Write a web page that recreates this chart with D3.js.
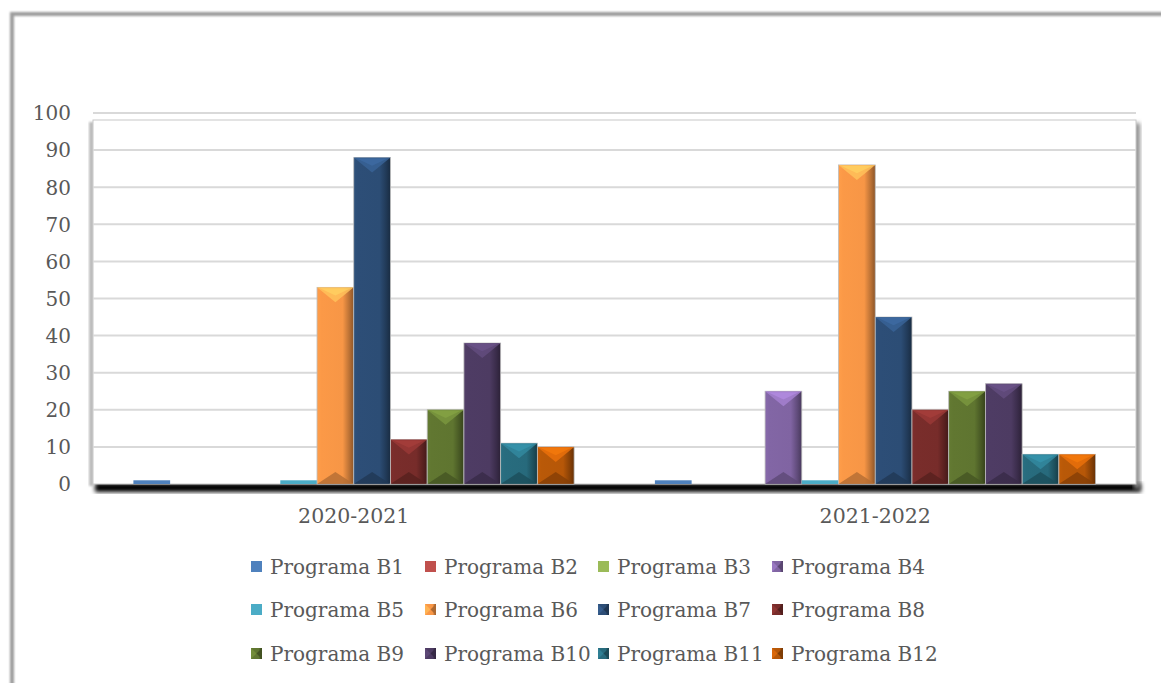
<!DOCTYPE html>
<html><head><meta charset="utf-8">
<script src="https://cdn.jsdelivr.net/npm/d3@7"></script>
<style>html,body{margin:0;padding:0;background:#fff;overflow:hidden}</style>
</head><body>
<svg id="c" width="1161" height="683"></svg>
<script>
const categories = ["2020-2021", "2021-2022"];
const series = ["Programa B1","Programa B2","Programa B3","Programa B4","Programa B5","Programa B6",
                "Programa B7","Programa B8","Programa B9","Programa B10","Programa B11","Programa B12"];
const values2020 = [1, 0, 0, 0, 1, 53, 88, 12, 20, 38, 11, 10];
const values2021 = [1, 0, 0, 25, 1, 86, 45, 20, 25, 27, 8, 8];
const yTicks = [0,10,20,30,40,50,60,70,80,90,100];
const colors = ["#4F81BD","#C0504D","#9BBB59","#8064A2","#4BACC6","#F79646",
                "#2C4D75","#772C2A","#5F7530","#4D3B62","#276A7C","#B65708"];
const flatSeries = new Set(["Programa B1","Programa B2","Programa B3","Programa B5"]);

const dataByCat = [values2020, values2021];
const svg = d3.select("#c");
const defs = svg.append("defs");
const font = "'DejaVu Serif', serif";
const textColor = "#595959";

// filters
const blur = (id, s) => defs.append("filter").attr("id", id).attr("x","-20%").attr("y","-20%").attr("width","140%").attr("height","140%")
  .append("feGaussianBlur").attr("stdDeviation", s);
blur("b1", 1); blur("b2", 2);

// outer frame
svg.append("rect").attr("x", 12).attr("y", 14).attr("width", 1200).attr("height", 720)
  .attr("fill", "none").attr("stroke", "#9c9c9c").attr("stroke-width", 4).attr("filter", "url(#b1)");

const x0 = d3.scaleBand().domain(categories).range([93, 1136]);
const x1 = d3.scaleBand().domain(series).range([0, x0.bandwidth()]).paddingInner(0).paddingOuter(1.1);
const y = d3.scaleLinear().domain([0, 100]).range([484, 113]);
const color = d3.scaleOrdinal().domain(series).range(colors);

// plot area shadows
const pL = x0.range()[0], pR = x0.range()[1], pT = 120, pB = y(0);
svg.append("rect").attr("x", pL + 2).attr("y", pB - 1).attr("width", pR - pL + 3).attr("height", 9)
  .attr("fill", "#000").attr("filter", "url(#b2)");
svg.append("rect").attr("x", pR - 2).attr("y", pT + 3).attr("width", 6).attr("height", pB - pT + 2)
  .attr("fill", "#8a8a8a").attr("filter", "url(#b2)");
svg.append("rect").attr("x", pL - 4).attr("y", pT + 2).attr("width", 5).attr("height", pB - pT)
  .attr("fill", "#bdbdbd").attr("filter", "url(#b1)");
svg.append("rect").attr("x", pL).attr("y", pT).attr("width", pR - pL).attr("height", pB - pT)
  .attr("fill", "#fff").attr("stroke", "#c8c8c8").attr("stroke-width", 1);

// gridlines
svg.append("g").selectAll("line").data(yTicks.filter(d => d > 0)).join("line")
  .attr("x1", pL).attr("x2", pR).attr("y1", d => y(d)).attr("y2", d => y(d))
  .attr("stroke", "#d9d9d9").attr("stroke-width", 2);

// y axis labels
const yAxis = d3.axisLeft(y).tickValues(yTicks).tickSize(0).tickPadding(0);
const ya = svg.append("g").attr("transform", "translate(71,0)").call(yAxis);
ya.select(".domain").remove();
ya.selectAll("text").attr("font-family", font).attr("font-size", 20).attr("fill", textColor).attr("dy", "0.34em");

// x axis labels
const xAxis = d3.axisBottom(x0).tickSize(0).tickPadding(0);
const xa = svg.append("g").attr("transform", "translate(0,523)").call(xAxis);
xa.select(".domain").remove();
xa.selectAll("text").attr("font-family", font).attr("font-size", 20.5).attr("fill", textColor).attr("dy", "0");

// gradients
series.forEach((s, i) => {
  const c = d3.color(color(s));
  const g = defs.append("linearGradient").attr("id", "g" + i).attr("x1", "0").attr("x2", "1").attr("y1", "0").attr("y2", "0");
  g.append("stop").attr("offset", "0").attr("stop-color", c.brighter(0.15));
  g.append("stop").attr("offset", "0.12").attr("stop-color", c.brighter(0.05));
  g.append("stop").attr("offset", "0.7").attr("stop-color", c);
  g.append("stop").attr("offset", "0.88").attr("stop-color", c.darker(0.8));
  g.append("stop").attr("offset", "1").attr("stop-color", c.darker(1.6));
});

// bars
const groups = svg.append("g").selectAll("g").data(categories).join("g")
  .attr("transform", d => `translate(${x0(d)},0)`);
groups.each(function(cat, ci) {
  const vals = dataByCat[ci];
  const g = d3.select(this);
  series.forEach((s, si) => {
    const v = vals[si];
    if (!v) return;
    const bx = x1(s), bw = x1.bandwidth(), top = y(v), bot = y(0), h = bot - top;
    const flat = flatSeries.has(s);
    if (flat) {
      g.append("rect").attr("x", bx).attr("y", top).attr("width", bw).attr("height", h).attr("fill", color(s));
      return;
    }
    g.append("rect").attr("x", bx).attr("y", top).attr("width", bw).attr("height", h)
      .attr("fill", `url(#g${si})`).attr("stroke", "#bcbcbc").attr("stroke-width", 0.8);
    const d = Math.min(15, h / 2);
    const c = d3.color(color(s));
    g.append("polygon")
      .attr("points", [[bx, top], [bx + bw, top], [bx + bw / 2, top + d]].map(p => p.join(",")).join(" "))
      .attr("fill", c.brighter(0.7)).attr("opacity", 0.85);
    g.append("polygon")
      .attr("points", [[bx + 3, top + 1], [bx + bw - 3, top + 1], [bx + bw / 2, top + d * 0.55]].map(p => p.join(",")).join(" "))
      .attr("fill", c.brighter(1.1)).attr("opacity", 0.5);
    const db = Math.min(12, h / 2);
    g.append("polygon")
      .attr("points", [[bx, bot], [bx + bw, bot], [bx + bw / 2, bot - db]].map(p => p.join(",")).join(" "))
      .attr("fill", c.darker(0.9)).attr("opacity", 0.8);
  });
});

// legend
const legCols = [251, 425, 598, 772];
const legRows = [567, 610, 654];
const leg = svg.append("g");
series.forEach((s, i) => {
  const lx = legCols[i % 4], ly = legRows[Math.floor(i / 4)];
  const c = d3.color(color(s));
  if (flatSeries.has(s)) {
    leg.append("rect").attr("x", lx).attr("y", ly - 6).attr("width", 11).attr("height", 11).attr("fill", color(s));
  } else {
    leg.append("rect").attr("x", lx).attr("y", ly - 6).attr("width", 11).attr("height", 11).attr("fill", `url(#g${i})`);
    leg.append("polygon").attr("points", [[lx, ly - 6], [lx + 5.5, ly - 0.5], [lx, ly + 5]].map(p => p.join(",")).join(" "))
      .attr("fill", c.brighter(0.5));
    leg.append("polygon").attr("points", [[lx + 11, ly - 6], [lx + 5.5, ly - 0.5], [lx + 11, ly + 5]].map(p => p.join(",")).join(" "))
      .attr("fill", c.darker(1));
  }
  leg.append("text").attr("x", lx + 19).attr("y", ly).attr("dy", "0.35em")
    .attr("font-family", font).attr("font-size", 20).attr("fill", textColor).text(s);
});
</script>
</body></html>
